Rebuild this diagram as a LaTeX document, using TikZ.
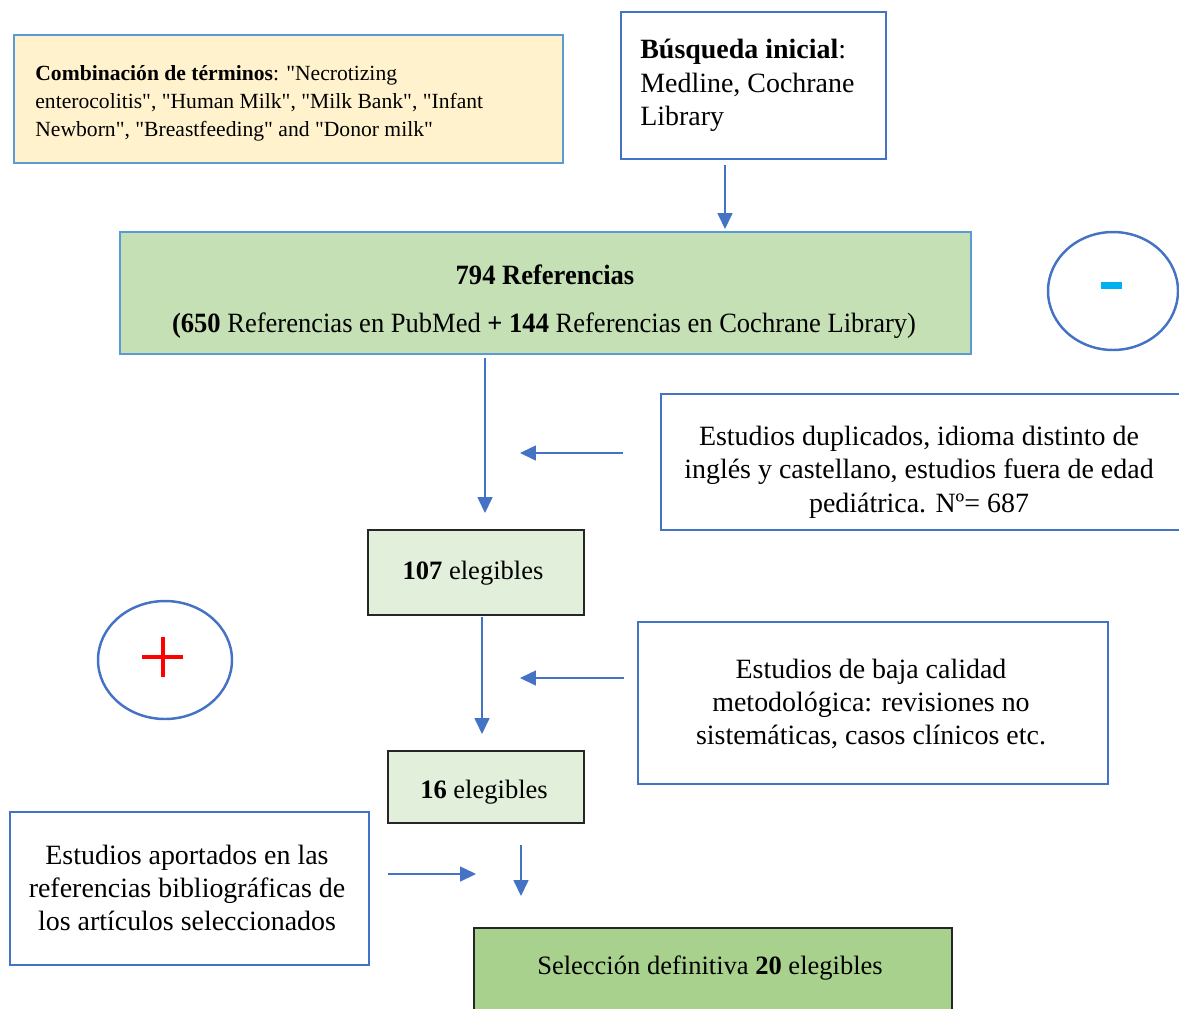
\documentclass[tikz,border=0pt]{standalone}
\usepackage{fontspec}
\setmainfont{Liberation Serif}[Ligatures=TeXOff]
\usetikzlibrary{arrows.meta,shapes.geometric}
\definecolor{bA}{HTML}{4472C4}
\definecolor{bL}{HTML}{5B9BD5}
\definecolor{yel}{HTML}{FFF2CC}
\definecolor{gA}{HTML}{C5E0B4}
\definecolor{gL}{HTML}{E2EFDA}
\definecolor{gD}{HTML}{A9D18E}
\definecolor{cy}{HTML}{00B0F0}
\definecolor{dk}{HTML}{262626}
\newcommand\ftbig{\fontsize{15.9}{19}\selectfont}
\newcommand\ftmid{\fontsize{15.1}{18.5}\selectfont}
\newcommand\ftsmall{\fontsize{12.3}{15.9}\selectfont}
\begin{document}
\begin{tikzpicture}[x=0.02cm,y=-0.02cm,
  box/.style={draw, rectangle, inner sep=0pt, line width=1.1pt},
  txt/.style={inner sep=0pt, font=\ftbig, align=center},
  arr/.style={draw=bA, line width=0.7pt, -{Triangle[length=9pt,width=8.5pt]}},
  oval/.style={draw=bA, ellipse, line width=1.4pt, inner sep=0pt}]
\useasboundingbox (0,0) rectangle (1179,1008);

% boxes
\node[box, draw=bL, fill=yel, minimum width=10.98cm, minimum height=2.56cm] (comb) at (288.5,99) {};
\node[box, draw=bA, fill=white, minimum width=5.3cm, minimum height=2.94cm] (busq) at (753.5,85.5) {};
\node[box, draw=bL, fill=gA, minimum width=17.02cm, minimum height=2.44cm] (ref) at (545.5,293) {};
\node[box, draw=bA, fill=white, minimum width=10.4cm, minimum height=2.72cm] (dup) at (921,462) {};
\node[box, draw=dk, fill=gL, minimum width=4.32cm, minimum height=1.7cm] (e107) at (476,572.5) {};
\node[box, draw=bA, fill=white, minimum width=9.4cm, minimum height=3.24cm] (baja) at (873,703) {};
\node[box, draw=dk, fill=gL, minimum width=3.92cm, minimum height=1.44cm] (e16) at (486,787) {};
\node[box, draw=bA, fill=white, minimum width=7.18cm, minimum height=3.06cm] (aport) at (189.5,888.5) {};
\node[box, draw=dk, fill=gD, minimum width=9.56cm, minimum height=1.68cm] (sel) at (713,970) {};

% ovals
\node[oval, minimum width=2.6cm, minimum height=2.36cm] (minus) at (1113,291) {};
\node[oval, minimum width=2.68cm, minimum height=2.36cm] (plus) at (165,660) {};
\fill[cy] (1101,282) rectangle (1122,289);
\draw[red, line width=2.3pt] (163,637) -- (163,677) (142,657) -- (183,657);

% texts
\node[txt, font=\ftsmall, anchor=west, align=left] (combT) at (35,103)
  {\textbf{Combinación de términos}: "Necrotizing\\enterocolitis", "Human Milk", "Milk Bank", "Infant\\Newborn", "Breastfeeding" and "Donor milk"};
\node[txt, anchor=west, align=left] (busqT) at (640,85.5)
  {\textbf{Búsqueda inicial}:\\Medline, Cochrane\\Library};
\node[txt] (refT1) at (545,275) {\scalebox{0.95}[1]{\textbf{794 Referencias}}};
\node[txt] (refT2) at (544,326) {\scalebox{0.95}[1]{\textbf{(650} Referencias en PubMed \textbf{+ 144} Referencias en Cochrane Library)}};
\node[txt] (dupT) at (919,472)
  {Estudios duplicados, idioma distinto de\\inglés y castellano, estudios fuera de edad\\pediátrica. Nº= 687};
\node[txt, font=\ftmid] (e107T) at (473,573) {\textbf{107} elegibles};
\node[txt] (bajaT) at (871,704)
  {Estudios de baja calidad\\metodológica: revisiones no\\sistemáticas, casos clínicos etc.};
\node[txt, font=\ftmid] (e16T) at (484,792) {\textbf{16} elegibles};
\node[txt] (aportT) at (187,888)
  {Estudios aportados en las\\referencias bibliográficas de\\los artículos seleccionados};
\node[txt, font=\ftmid] (selT) at (710,968) {Selección definitiva \textbf{20} elegibles};

% arrow end points
\coordinate (a1s) at (725,165); \coordinate (a1e) at (725,229);
\coordinate (a2s) at (485,358); \coordinate (a2e) at (485,513);
\coordinate (a3s) at (623,453); \coordinate (a3e) at (520,453);
\coordinate (a4s) at (482,617); \coordinate (a4e) at (482,734);
\coordinate (a5s) at (624,678); \coordinate (a5e) at (520,678);
\coordinate (a6s) at (521,845); \coordinate (a6e) at (521,896);
\coordinate (a7s) at (388,874); \coordinate (a7e) at (476,874);
\draw[arr] (a1s) -- (a1e);
\draw[arr] (a2s) -- (a2e);
\draw[arr] (a3s) -- (a3e);
\draw[arr] (a4s) -- (a4e);
\draw[arr] (a5s) -- (a5e);
\draw[arr] (a6s) -- (a6e);
\draw[arr] (a7s) -- (a7e);
\end{tikzpicture}
\end{document}
